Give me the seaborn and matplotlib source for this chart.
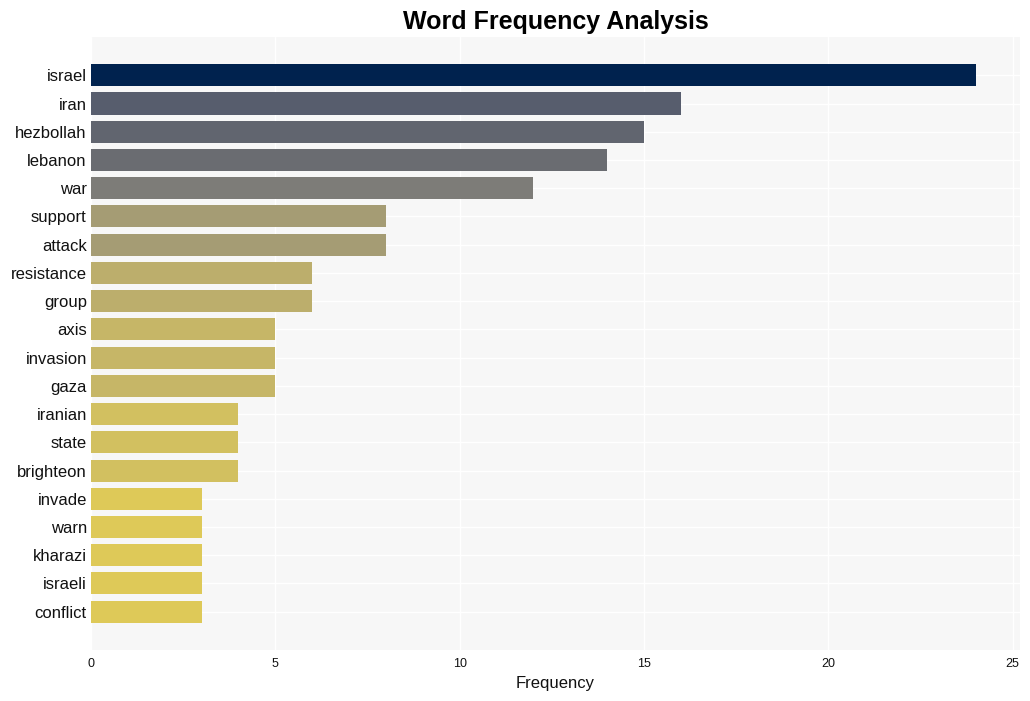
import matplotlib
matplotlib.use("Agg")
import matplotlib.pyplot as plt
import seaborn as sns
import pandas as pd
from matplotlib import cm

words = ["israel", "iran", "hezbollah", "lebanon", "war", "support", "attack",
         "resistance", "group", "axis", "invasion", "gaza", "iranian", "state",
         "brighteon", "invade", "warn", "kharazi", "israeli", "conflict"]
counts = [24, 16, 15, 14, 12, 8, 8, 6, 6, 5, 5, 5, 4, 4, 4, 3, 3, 3, 3, 3]

sns.set_theme(style="whitegrid")
plt.rcParams["font.family"] = ["Liberation Sans", "DejaVu Sans"]

df = pd.DataFrame({"word": words, "count": counts})
vmax = max(counts)
colors = [cm.cividis(1 - c / vmax) for c in counts]

fig = plt.figure(figsize=(10.30, 7.01), dpi=100)
ax = fig.add_axes([0.0883, 0.073, 0.902, 0.874])
ax.set_facecolor("#f7f7f7")
sns.barplot(data=df, x="count", y="word", hue="word", palette=colors,
            legend=False, width=0.78, saturation=1, linewidth=0, ax=ax)
ax.grid(True, color="white", linewidth=1)
ax.set_axisbelow(True)
for s in ax.spines.values():
    s.set_visible(False)
ax.set_xlim(0, 25.2)
ax.set_ylim(len(words) - 1 + 1.35, -1.35)
ax.set_xticks([0, 5, 10, 15, 20, 25])
ax.tick_params(axis="x", labelsize=9, length=0, pad=6, colors="#111111")
ax.tick_params(axis="y", labelsize=12, length=0, pad=3, colors="#111111")
ax.set_ylabel("")
ax.set_xlabel("Frequency", fontsize=12, color="#111111")
ax.set_title("Word Frequency Analysis", fontsize=18, fontweight="bold",
             color="black", pad=6)
fig.savefig("out.png", dpi=100, facecolor="white")
